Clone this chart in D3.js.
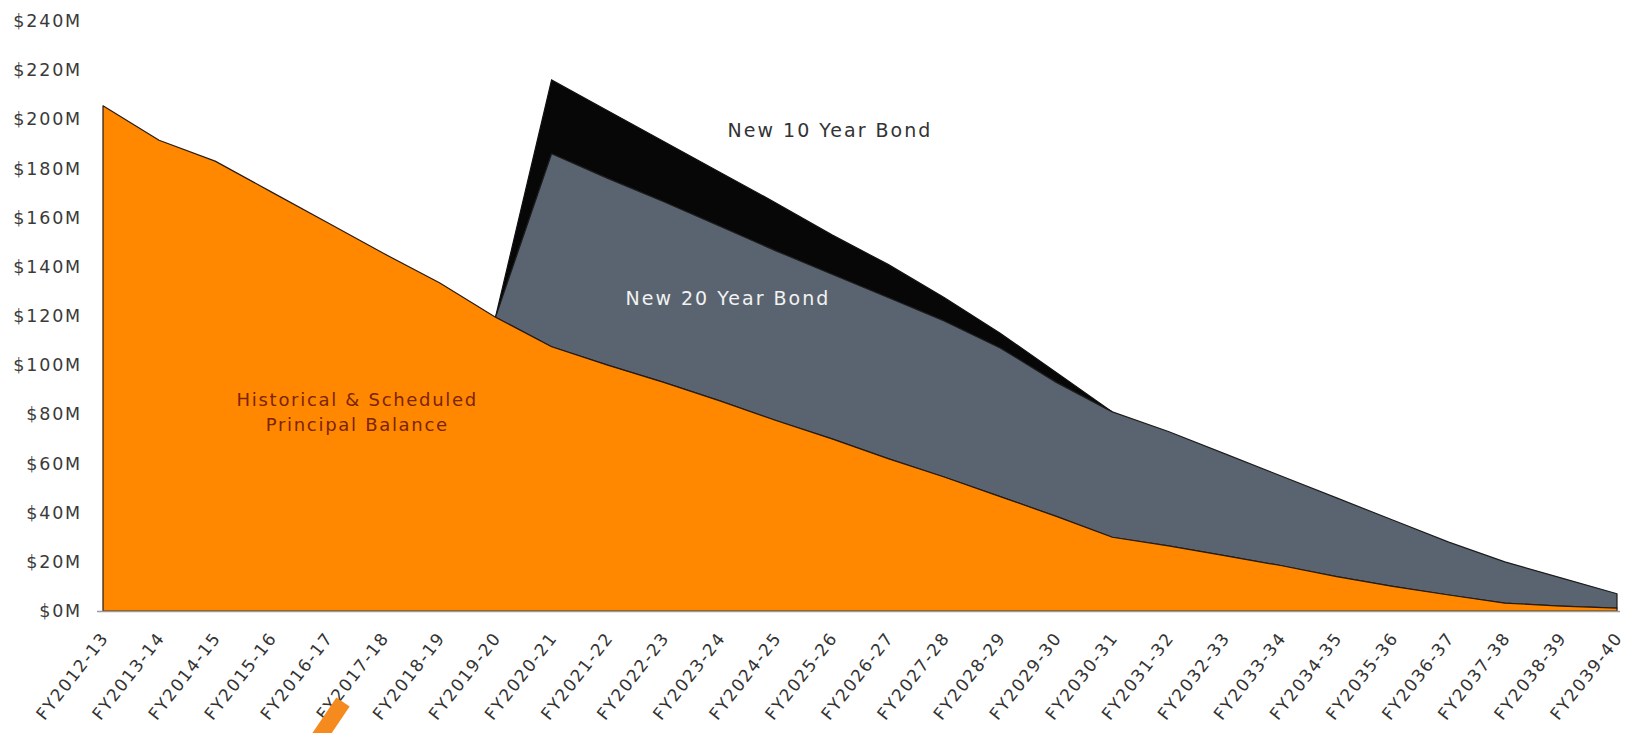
<!DOCTYPE html>
<html>
<head>
<meta charset="utf-8">
<script src="https://cdn.jsdelivr.net/npm/d3@7"></script>
<style>
  html, body { margin: 0; padding: 0; background: #fff; }
  svg text { font-family: "DejaVu Sans", sans-serif; }
</style>
</head>
<body>
<div class="canvas"></div>
<script>
const years = [
  "FY2012-13", "FY2013-14", "FY2014-15", "FY2015-16", "FY2016-17", "FY2017-18", "FY2018-19",
  "FY2019-20", "FY2020-21", "FY2021-22", "FY2022-23", "FY2023-24", "FY2024-25", "FY2025-26",
  "FY2026-27", "FY2027-28", "FY2028-29", "FY2029-30", "FY2030-31", "FY2031-32", "FY2032-33",
  "FY2033-34", "FY2034-35", "FY2035-36", "FY2036-37", "FY2037-38", "FY2038-39", "FY2039-40"
];

// $M
const historical = [
  205.5, 191.5, 183, 170.5, 158, 145.5, 133.5, 119.5, 107.5, 100, 93, 85.5, 77.5, 70,
  62, 54.5, 46.5, 38.5, 30, 26.5, 22.5, 18.5, 14, 10, 6.5, 3.2, 2, 1.2
];
const bond20 = [
  null, null, null, null, null, null, null, 0, 78.5, 76, 73.5, 71, 69, 67,
  65.5, 63.5, 60.5, 54.5, 51, 46.5, 41.5, 36.5, 32, 27, 21.5, 16.8, 11.5, 5.8
];
const bond10 = [
  null, null, null, null, null, null, null, 0, 30, 27.5, 24.5, 22, 19.5, 16,
  13.5, 9.5, 6, 4, 0, null, null, null, null, null, null, null, null, null
];
const yTicks = d3.range(0, 241, 20);

const dims = { w: 1630, h: 733 };
const margin = { left: 103, right: 13, top: 21, bottom: 122 };

const svg = d3.select(".canvas")
  .append("svg")
  .attr("width", dims.w)
  .attr("height", dims.h);

const x = d3.scalePoint()
  .domain(years)
  .range([margin.left, dims.w - margin.right]);

const y = d3.scaleLinear()
  .domain([0, 240])
  .range([dims.h - margin.bottom, margin.top]);

const data = years.map((yr, i) => {
  const h = historical[i];
  const g = bond20[i] == null ? null : h + bond20[i];
  const b = bond10[i] == null ? null : g + bond10[i];
  return { yr, h, g, b };
});

// areas
const histArea = d3.area()
  .x(d => x(d.yr))
  .y0(y(0))
  .y1(d => y(d.h));

const area20 = d3.area()
  .defined(d => d.g != null)
  .x(d => x(d.yr))
  .y0(d => y(d.h))
  .y1(d => y(d.g));

const area10 = d3.area()
  .defined(d => d.b != null)
  .x(d => x(d.yr))
  .y0(d => y(d.g))
  .y1(d => y(d.b));

svg.append("path")
  .datum(data)
  .attr("d", area10)
  .attr("fill", "#070707")
  .attr("stroke", "#111")
  .attr("stroke-width", 1.2);

svg.append("path")
  .datum(data)
  .attr("d", area20)
  .attr("fill", "#5a6470")
  .attr("stroke", "#1c1c1c")
  .attr("stroke-width", 1.2)
  .attr("stroke-linejoin", "round");

svg.append("path")
  .datum(data)
  .attr("d", histArea)
  .attr("fill", "#ff8800")
  .attr("stroke", "#2a1a10")
  .attr("stroke-width", 1.2)
  .attr("stroke-linejoin", "round");

// baseline
svg.append("line")
  .attr("x1", margin.left - 6)
  .attr("x2", dims.w - 10)
  .attr("y1", y(0) + 0.5)
  .attr("y2", y(0) + 0.5)
  .attr("stroke", "#9a9a9a")
  .attr("stroke-width", 1.5);

// y axis
const yAxis = d3.axisLeft(y)
  .tickValues(yTicks)
  .tickSize(0)
  .tickPadding(21)
  .tickFormat(d => `$${d}M`);

const yG = svg.append("g")
  .attr("transform", `translate(${margin.left}, 0)`)
  .call(yAxis);
yG.select(".domain").remove();
yG.selectAll("text")
  .attr("fill", "#3a3a3a")
  .style("font-size", "17.5px")
  .style("letter-spacing", "1.8px");

// x axis
const xAxis = d3.axisBottom(x).tickSize(0).tickPadding(0);
const xG = svg.append("g")
  .attr("transform", `translate(0, ${y(0)})`)
  .call(xAxis);
xG.select(".domain").remove();
xG.selectAll("text")
  .attr("fill", "#333")
  .attr("text-anchor", "end")
  .attr("dy", 0)
  .attr("y", 0)
  .attr("transform", "translate(6, 27) rotate(-52)")
  .style("font-size", "17px")
  .style("letter-spacing", "1.6px");

// labels
const notes = svg.append("g").attr("text-anchor", "middle");

notes.append("text")
  .attr("x", x("FY2025-26") - 2)
  .attr("y", y(193))
  .attr("fill", "#333")
  .style("font-size", "19px")
  .style("letter-spacing", "2px")
  .text("New 10 Year Bond");

notes.append("text")
  .attr("x", x("FY2024-25") - 48)
  .attr("y", y(124.5))
  .attr("fill", "#f2f2f2")
  .style("font-size", "19px")
  .style("letter-spacing", "2px")
  .text("New 20 Year Bond");

const histLabel = notes.append("text")
  .attr("fill", "#7a2408")
  .style("font-size", "18px")
  .style("letter-spacing", "1.7px");
histLabel.append("tspan")
  .attr("x", x("FY2016-17") + 30)
  .attr("y", y(83.5))
  .text("Historical & Scheduled");
histLabel.append("tspan")
  .attr("x", x("FY2016-17") + 30)
  .attr("y", y(73.3))
  .text("Principal Balance");

// stray orange pointer at the bottom edge
svg.append("line")
  .attr("x1", 343).attr("y1", 702)
  .attr("x2", 314).attr("y2", 745)
  .attr("stroke", "#f58a1f")
  .attr("stroke-width", 16);
</script>
</body>
</html>
